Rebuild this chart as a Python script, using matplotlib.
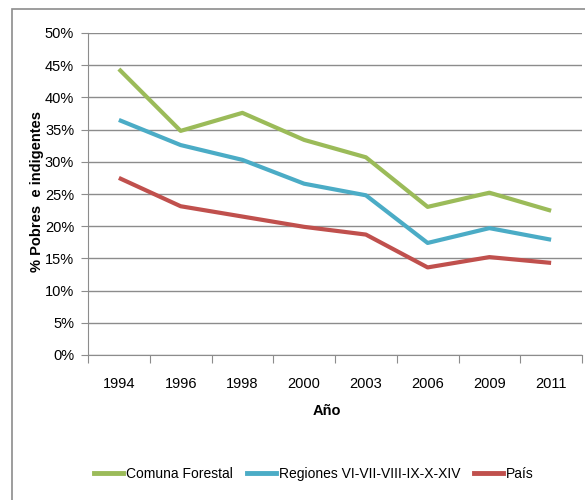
import matplotlib.pyplot as plt
import numpy as np
from matplotlib.patches import Rectangle
from matplotlib.lines import Line2D

# Datos
anios = ["1994", "1996", "1998", "2000", "2003", "2006", "2009", "2011"]
comuna_forestal = [44.4, 34.8, 37.6, 33.4, 30.7, 23.0, 25.2, 22.4]
regiones = [36.5, 32.6, 30.3, 26.6, 24.8, 17.4, 19.7, 17.9]
pais = [27.5, 23.1, 21.5, 19.9, 18.7, 13.6, 15.2, 14.3]

nombres = ["Comuna Forestal", "Regiones VI-VII-VIII-IX-X-XIV", "País"]
colores = ["#9BBB59", "#4BACC6", "#C0504D"]

plt.rcParams["font.family"] = ["Liberation Sans", "DejaVu Sans"]

fig = plt.figure(figsize=(5.85, 5.0), dpi=100)
ax = fig.add_axes([88/585, 1-355/500, (582-88)/585, (355-33)/500])

x = np.arange(len(anios))
for serie, c in zip([comuna_forestal, regiones, pais], colores):
    ax.plot(x, serie, color=c, lw=3.0, solid_capstyle="butt", zorder=3)

ax.set_xlim(-0.5, len(anios) - 0.5)
ax.set_ylim(0, 50)
ax.set_yticks(np.arange(0, 51, 5))
ax.set_yticklabels([f"{v}%" for v in range(0, 51, 5)], fontsize=10.5)
ax.yaxis.grid(True, color="#8c8c8c", lw=1)
ax.set_axisbelow(True)

# Marcas de categoría entre años, etiquetas centradas
ax.set_xticks(np.arange(-0.5, len(anios), 1))
ax.set_xticklabels([])
ax.set_xticks(x, minor=True)
ax.set_xticklabels(anios, minor=True, fontsize=10.5)
ax.tick_params(axis="x", which="major", length=6, color="#8c8c8c")
ax.tick_params(axis="x", which="minor", length=0, pad=16)
ax.tick_params(axis="y", length=5, color="#8c8c8c", pad=5)

for lado in ["top", "right"]:
    ax.spines[lado].set_visible(False)
for lado in ["left", "bottom"]:
    ax.spines[lado].set_color("#8c8c8c")

ax.set_xlabel("Año", fontsize=10.5, fontweight="bold")
ax.xaxis.set_label_coords((327-88)/(582-88), -(404-355)/322)
ax.set_ylabel("% Pobres  e indigentes", fontsize=10.5, fontweight="bold")
ax.yaxis.set_label_coords(-(88-44)/(582-88), (355-192)/322)

# Leyenda
handles = [Line2D([0], [0], color=c, lw=3.5) for c in colores]
fig.legend(handles, nombres, loc="center", bbox_to_anchor=(314/585, 1-474/500),
           ncol=3, frameon=False, fontsize=10, handlelength=2.1,
           handletextpad=0.2, columnspacing=1.0)

# Marco exterior del gráfico
fig.patches.append(Rectangle((12/585, -0.1), 1.2, 1-9/500+0.1, transform=fig.transFigure,
                             fill=False, edgecolor="#8c8c8c", lw=1.2))

fig.savefig("out.png", dpi=100)
